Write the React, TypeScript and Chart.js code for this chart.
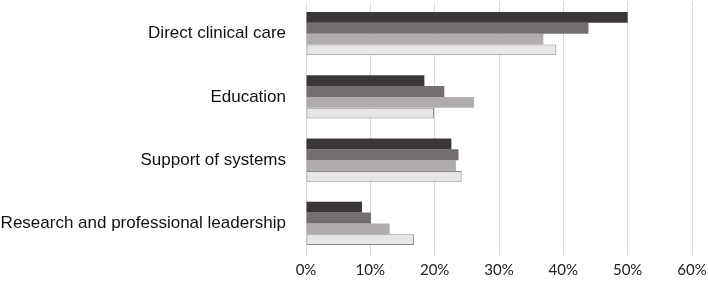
import React, { useEffect, useRef } from "react";
import { Chart, registerables } from "chart.js";

Chart.register(...registerables);

const categories = [
  "Direct clinical care",
  "Education",
  "Support of systems",
  "Research and professional leadership",
];
const series1 = [50.0, 18.4, 22.6, 8.7];
const series2 = [43.9, 21.5, 23.7, 10.1];
const series3 = [36.9, 26.1, 23.3, 13.0];
const series4 = [38.9, 19.9, 24.2, 16.8];
const seriesNames = ["Series 1", "Series 2", "Series 3", "Series 4"];
const xTicks = [0, 10, 20, 30, 40, 50, 60];

export default function App() {
  const ref = useRef<HTMLCanvasElement | null>(null);
  useEffect(() => {
    if (!ref.current) return;
    const chart = new Chart(ref.current, {
      type: "bar",
      data: {
        labels: categories,
        datasets: [
          { label: seriesNames[0], data: series1, backgroundColor: "#3b3738", borderWidth: 0 },
          { label: seriesNames[1], data: series2, backgroundColor: "#746e6e", borderWidth: 0 },
          { label: seriesNames[2], data: series3, backgroundColor: "#b1acac", borderWidth: 0 },
          { label: seriesNames[3], data: series4, backgroundColor: "#e7e5e5", borderColor: "#8a8a8a", borderWidth: 1, borderSkipped: false },
        ],
      },
      options: {
        indexAxis: "y",
        animation: false,
        responsive: false,
        maintainAspectRatio: false,
        layout: { padding: { top: 2, right: 16, left: 0, bottom: 0 } },
        datasets: { bar: { categoryPercentage: 0.684, barPercentage: 1 } },
        plugins: { legend: { display: false }, tooltip: { enabled: false } },
        scales: {
          x: {
            min: 0,
            max: 60,
            afterFit: (s: any) => {
              s.height = 27;
              s.paddingLeft = 0;
              s.paddingRight = 0;
            },
            afterBuildTicks: (s: any) => { s.ticks = xTicks.map((v) => ({ value: v })); },
            ticks: {
              padding: 6,
              color: "#222",
              font: { family: "Lato", size: 15 },
              callback: (v: any) => v + "%",
            },
            grid: { color: "#d9d9d9", lineWidth: 1, drawTicks: false },
            border: { display: false },
          },
          y: {
            afterFit: (s: any) => {
              s.width = 306;
              s.paddingTop = 0;
              s.paddingBottom = 0;
            },
            ticks: {
              padding: 20,
              color: "#111",
              font: { family: "Liberation Sans", size: 17 },
            },
            grid: { display: false, drawTicks: false },
            border: { display: true, color: "#d9d9d9" },
          },
        },
      },
    });
    return () => chart.destroy();
  }, []);
  return (
    <div style={{ position: "fixed", left: 0, top: 0, width: 708, height: 282, background: "#fff" }}>
      <canvas ref={ref} width={708} height={282} style={{ width: 708, height: 282 }} />
    </div>
  );
}
